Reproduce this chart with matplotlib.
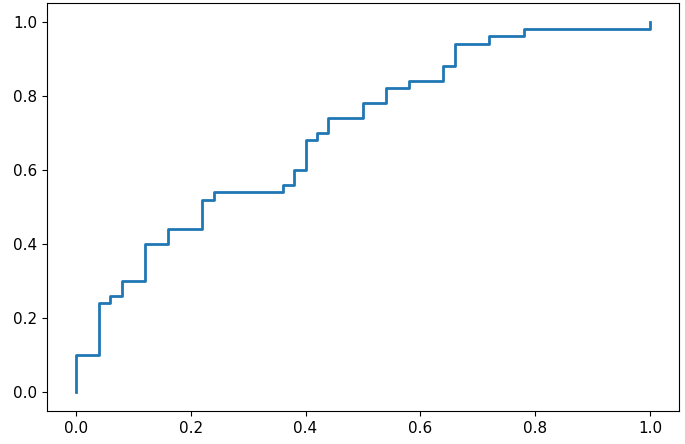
import numpy as np
import matplotlib.pyplot as plt

# false positive rate / true positive rate at each threshold step
fpr = [0.00, 0.00, 0.04, 0.06, 0.08, 0.12, 0.16, 0.22, 0.24, 0.36, 0.38, 0.40,
       0.42, 0.44, 0.50, 0.54, 0.58, 0.64, 0.66, 0.72, 0.78, 1.00]
tpr = [0.00, 0.10, 0.24, 0.26, 0.30, 0.40, 0.44, 0.52, 0.54, 0.56, 0.60, 0.68,
       0.70, 0.74, 0.78, 0.82, 0.84, 0.88, 0.94, 0.96, 0.98, 1.00]

fig = plt.figure(figsize=(6.85, 4.44), dpi=100)
ax = fig.add_axes([0.0686, 0.0743, 0.9225, 0.919])
ax.plot(fpr, tpr, drawstyle="steps-post", color="#1f77b4", linewidth=2)
ax.tick_params(labelsize=11)

plt.savefig("out.png")
